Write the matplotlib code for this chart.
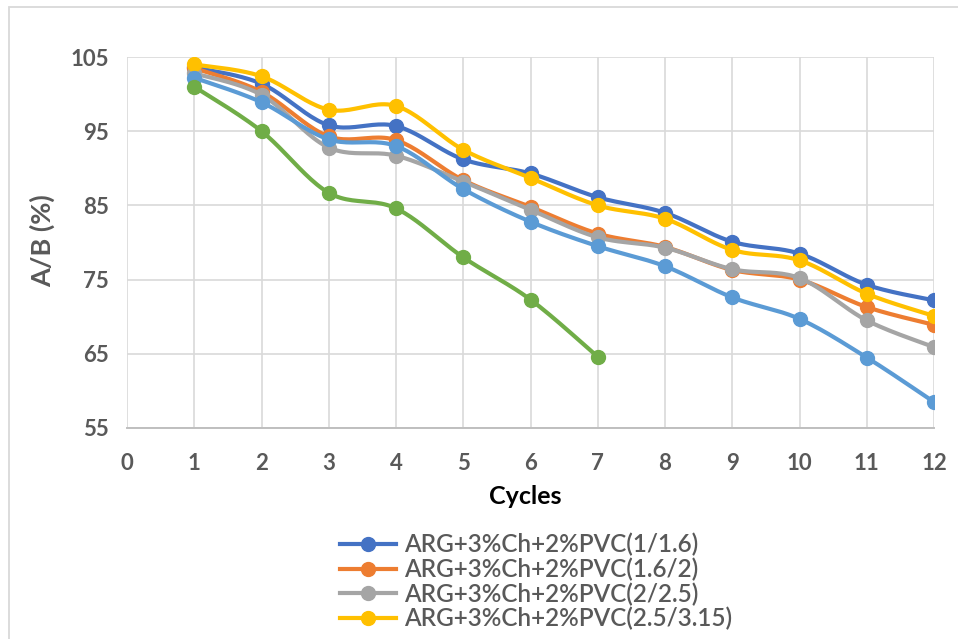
import numpy as np
import matplotlib
matplotlib.use("Agg")
import matplotlib.pyplot as plt
from matplotlib.lines import Line2D
from matplotlib.patches import Rectangle

plt.rcParams['font.family'] = ['Lato', 'DejaVu Sans']

# Data
cycles = [1, 2, 3, 4, 5, 6, 7, 8, 9, 10, 11, 12]
series_labels = [
    "ARG+3%Ch+2%PVC(1/1.6)",
    "ARG+3%Ch+2%PVC(1.6/2)",
    "ARG+3%Ch+2%PVC(2/2.5)",
    "ARG+3%Ch+2%PVC(2.5/3.15)",
]
pvc_1_16 = [103.6, 101.4, 95.8, 95.7, 91.2, 89.3, 86.1, 84.0, 80.1, 78.5, 74.3, 72.2]
pvc_16_2 = [103.5, 100.3, 94.3, 93.8, 88.4, 84.8, 81.2, 79.4, 76.3, 75.0, 71.3, 68.9]
pvc_2_25 = [102.8, 99.9, 92.8, 91.7, 88.2, 84.4, 80.7, 79.3, 76.4, 75.2, 69.5, 65.9]
pvc_25_315 = [104.0, 102.4, 97.9, 98.4, 92.5, 88.7, 85.0, 83.2, 79.0, 77.6, 73.1, 70.1]
series_5 = [102.2, 98.9, 93.9, 93.0, 87.2, 82.8, 79.5, 76.8, 72.6, 69.7, 64.5, 58.5]
series_6 = [101.0, 95.0, 86.7, 84.6, 78.0, 72.3, 64.6]

colors = ["#4472C4", "#ED7D31", "#A5A5A5", "#FFC000", "#5B9BD5", "#70AD47"]
y_ticks = [55, 65, 75, 85, 95, 105]
x_ticks = list(range(0, 13))


def smooth(x, y, n=24):
    """Catmull-Rom curve through the points (end points duplicated)."""
    p = np.column_stack([np.asarray(x, float), np.asarray(y, float)])
    p = np.vstack([p[0], p, p[-1]])
    out = []
    t = np.linspace(0, 1, n)[:, None]
    for i in range(1, len(p) - 2):
        p0, p1, p2, p3 = p[i - 1], p[i], p[i + 1], p[i + 2]
        seg = 0.5 * ((2 * p1) + (-p0 + p2) * t
                     + (2 * p0 - 5 * p1 + 4 * p2 - p3) * t ** 2
                     + (-p0 + 3 * p1 - 3 * p2 + p3) * t ** 3)
        out.append(seg if i == 1 else seg[1:])
    c = np.vstack(out)
    return c[:, 0], c[:, 1]


W, H = 958, 639
fig = plt.figure(figsize=(W / 100, H / 100), dpi=100)
ax = fig.add_axes([127 / W, 1 - 428 / H, (934 - 127) / W, (428 - 57) / H])

all_series = [pvc_1_16, pvc_16_2, pvc_2_25, pvc_25_315, series_5, series_6]
handles = []
for k, (vals, col) in enumerate(zip(all_series, colors)):
    xs = cycles[:len(vals)]
    sx, sy = smooth(xs, vals)
    ax.plot(sx, sy, color=col, lw=3.0, solid_capstyle='round', zorder=3 + k)
    ax.plot(xs, vals, 'o', color=col, ms=10, zorder=3 + k)
    handles.append(Line2D([], [], color=col, lw=3.0, marker='o', ms=10))

ax.set_xlim(0, 12)
ax.set_ylim(55, 105)
ax.set_xticks(x_ticks)
ax.set_yticks(y_ticks)
ax.grid(True, color="#D9D9D9", lw=1.2)
ax.set_axisbelow(True)
for s in ['top', 'right', 'left']:
    ax.spines[s].set_visible(False)
ax.spines['bottom'].set_color("#BFBFBF")
ax.spines['bottom'].set_linewidth(1.4)
ax.tick_params(length=0, labelsize=16, labelcolor="#595959")
ax.tick_params(axis='x', pad=18)
ax.tick_params(axis='y', pad=13)
for lab in ax.get_xticklabels() + ax.get_yticklabels():
    lab.set_fontweight('bold')

fig.text(42 / W, 1 - 241 / H, "A/B (%)", rotation=90, ha='center', va='center',
         fontsize=19.5, fontweight='bold', color="#595959")
fig.text(525 / W, 1 - 496 / H, "Cycles", ha='center', va='center',
         fontsize=18, fontweight='bold', color="#000000")

fig.legend(handles[:4], series_labels, loc='upper left',
           bbox_to_anchor=(340 / W, 1 - 533 / H), frameon=False,
           prop={'family': ['Lato', 'DejaVu Sans'], 'size': 17.5,
                 'weight': 'semibold'},
           labelcolor="#595959", handlelength=2.3,
           handletextpad=0.35, labelspacing=0.05, borderpad=0, borderaxespad=0)

# outer chart border (extends past the right and bottom edges)
fig.patches.append(Rectangle((8.5 / W, -0.2), 1.2, 1.2 - 6.5 / H,
                             transform=fig.transFigure, fill=False,
                             edgecolor="#D9D9D9", lw=1.3))

fig.savefig("out.png", dpi=100)
